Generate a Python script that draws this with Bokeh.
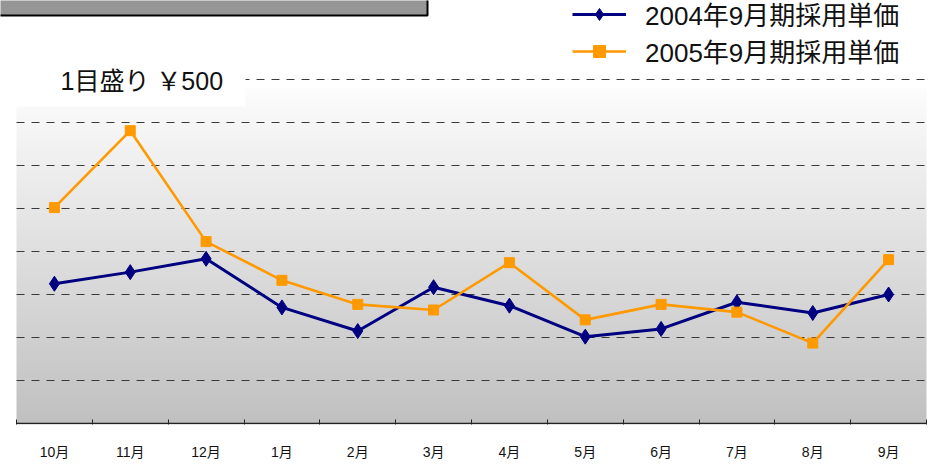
from bokeh.plotting import figure
from bokeh.models import Range1d, FixedTicker, Legend, LegendItem
from bokeh.core.properties import value
from bokeh.embed import file_html
from bokeh.resources import INLINE
import numpy as np

# ---- data ----
months = ["10月", "11月", "12月", "1月", "2月", "3月", "4月", "5月", "6月", "7月", "8月", "9月"]
price_2004 = [1625, 1760, 1915, 1350, 1075, 1585, 1370, 1010, 1100, 1410, 1285, 1500]
price_2005 = [2510, 3405, 2115, 1665, 1385, 1320, 1870, 1205, 1385, 1295, 935, 1905]
series_names = ["2004年9月期採用単価", "2005年9月期採用単価"]
grid_step = 500
grid_levels = [500, 1000, 1500, 2000, 2500, 3000, 3500, 4000]
scale_note = "1目盛り ￥500"

FONT = "Liberation Sans, Noto Sans CJK JP"

# ---- geometry ----
n = len(months)
px_x = 910 / n          # pixels per category
px_y = 43 / grid_step   # pixels per yen
x_start = -16 / px_x
x_end = n + 10 / px_x
y_start = -1 / px_y
y_end = 423 / px_y

p = figure(width=936, height=466, output_backend="svg", toolbar_location=None,
           x_range=Range1d(x_start, x_end), y_range=Range1d(y_start, y_end),
           min_border_left=0, min_border_right=0, min_border_top=0, min_border_bottom=42)
p.outline_line_color = None
p.background_fill_color = "white"
p.border_fill_color = "white"
p.yaxis.visible = False
p.xgrid.visible = False
p.ygrid.visible = False

# gradient plot area background (vertical image, white at top to grey at bottom)
top = (423 - 88) / px_y
nb = 256
t = np.linspace(1.0, 0.0, nb)[:, None]  # row 0 = bottom
g = np.round(192 + (252 - 192) * (1 - t)).astype(np.uint32)
img = (255 << 24) | (g << 16) | (g << 8) | g
p.image_rgba(image=[img.astype(np.uint32)], x=0, y=0, dw=n, dh=top)

# dashed grid lines
p.segment(x0=[0] * len(grid_levels), x1=[n] * len(grid_levels), y0=grid_levels, y1=grid_levels,
          line_color="#3a3a3a", line_width=1, line_dash="8 7")

# axis base line
p.segment(x0=[0], x1=[n], y0=[0], y1=[0], line_color="#222222", line_width=1.5)

# white note box and title box
p.quad(left=[x_start - 0.1], right=[(245 - 16) / px_x], bottom=[(423 - 106) / px_y], top=[(423 - 60) / px_y],
       fill_color="white", line_color=None)
p.quad(left=[x_start - 0.2], right=[(427 - 16) / px_x], bottom=[(423 - 15) / px_y], top=[y_end + 50],
       fill_color="#969696", line_color="black", line_width=2)
p.text(x=[(60 - 16) / px_x], y=[(423 - 80) / px_y], text=[scale_note], text_font=value(FONT),
       text_font_size="25px", text_baseline="middle", text_align="left", text_color="#111111")

# series
xs = [i + 0.5 for i in range(n)]
l1 = p.line(xs, price_2004, line_color="#000080", line_width=3)
m1 = p.scatter(xs, price_2004, marker="diamond", size=15,
               fill_color="#000080", line_color="#000080", line_width=1)
l2 = p.line(xs, price_2005, line_color="#ff9900", line_width=2.6)
m2 = p.scatter(xs, price_2005, marker="square", size=10, fill_color="#ff9900", line_color="#ff9900")

legend = Legend(items=[LegendItem(label=series_names[0], renderers=[l1, m1]),
                       LegendItem(label=series_names[1], renderers=[l2, m2])],
                location=(572, 355), padding=0, margin=0, spacing=-5,
                glyph_width=54, glyph_height=30, label_height=30, label_standoff=19,
                label_text_font=FONT, label_text_font_size="26px", label_text_color="#111111",
                background_fill_alpha=0, border_line_color=None)
p.add_layout(legend)

# x axis
ax = p.xaxis[0]
ax.ticker = FixedTicker(ticks=xs, minor_ticks=list(range(n + 1)))
ax.major_label_overrides = {x: m for x, m in zip(xs, months)}
ax.axis_line_color = None
ax.major_tick_in = 0
ax.major_tick_out = 0
ax.minor_tick_in = 5
ax.minor_tick_out = 0
ax.minor_tick_line_color = "#222222"
ax.major_label_text_font = FONT
ax.major_label_text_font_size = "14px"
ax.major_label_text_color = "#111111"
ax.major_label_standoff = 19

open("out.html", "w").write(file_html(p, INLINE))
